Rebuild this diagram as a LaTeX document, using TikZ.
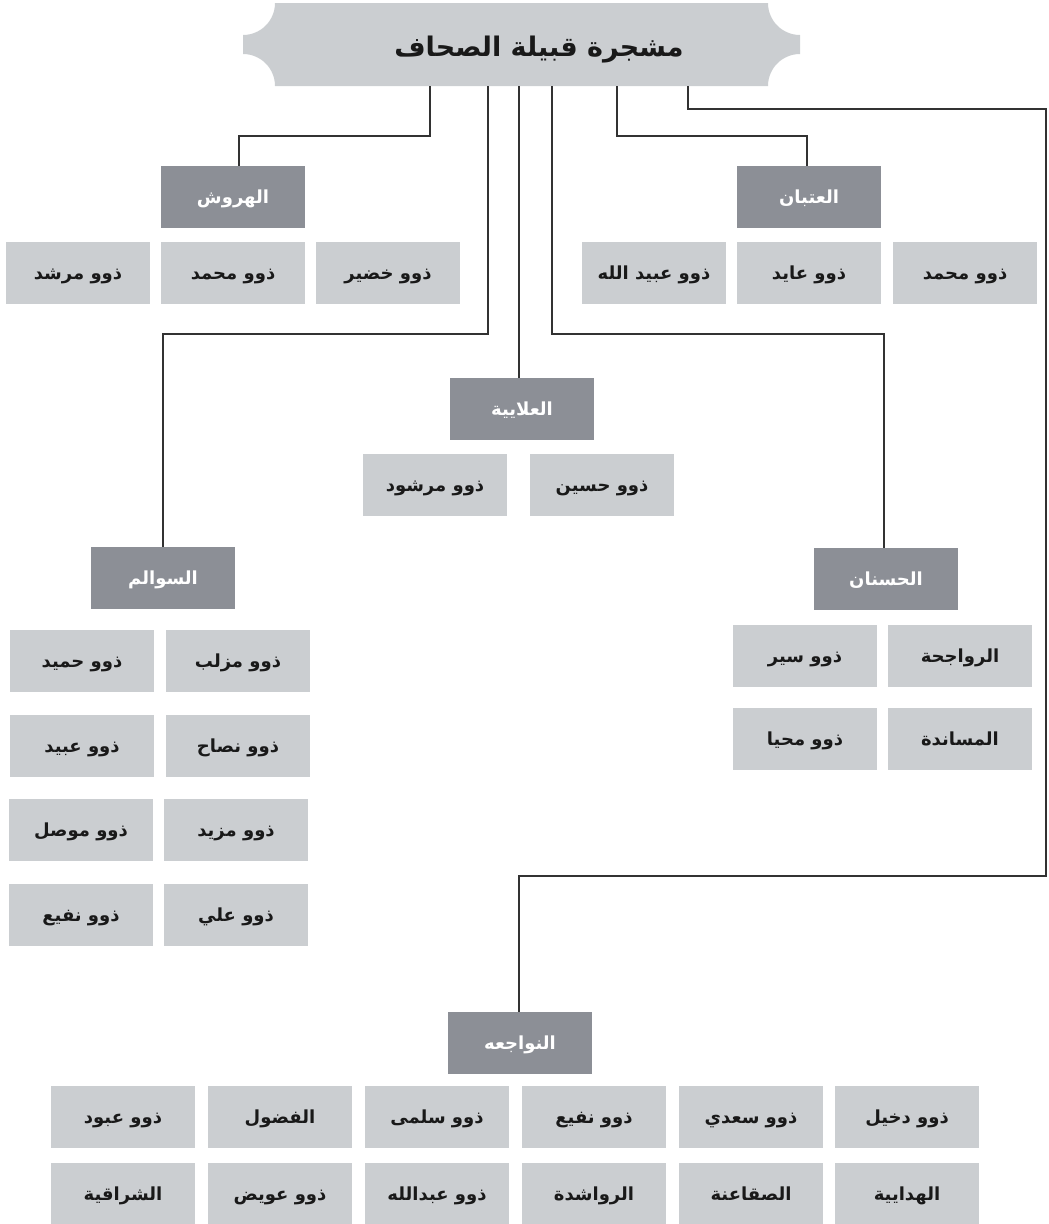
\documentclass[tikz,border=0pt]{standalone}
\usepackage{fontspec}
\TeXXeTstate=1
\newfontfamily\arabicfont[Script=Arabic]{DejaVu Sans}
\definecolor{hdrgray}{RGB}{140,143,150}
\definecolor{boxgray}{RGB}{203,206,209}
\definecolor{linegray}{RGB}{50,50,50}
\definecolor{txtdark}{RGB}{25,25,25}
\newcommand{\ar}[1]{\arabicfont\bfseries\beginR #1\endR}
\begin{document}
\begin{tikzpicture}[x=1pt,y=-1pt,
  hdr/.style={fill=hdrgray,text=white,minimum width=144pt,minimum height=62pt,inner sep=0pt,text height=15pt,text depth=2pt,font=\fontsize{18}{21}\selectfont},
  child/.style={fill=boxgray,text=txtdark,minimum width=144pt,minimum height=62pt,inner sep=0pt,text height=15pt,text depth=2pt,font=\fontsize{18}{21}\selectfont},
  conn/.style={draw=linegray,line width=1.4pt}]
\useasboundingbox (0,0) rectangle (1049,1224);
% banner
\fill[boxgray] (275,3) -- (768,3) arc[start angle=180,end angle=90,radius=32]
  -- (800,54) arc[start angle=270,end angle=180,radius=32]
  -- (275,86) arc[start angle=0,end angle=-90,radius=32]
  -- (243,35) arc[start angle=90,end angle=0,radius=32] -- cycle;
\node[text=txtdark,font=\fontsize{27}{32}\selectfont,inner sep=0pt,text height=22pt,text depth=2pt] (title) at (539,46) {\ar{مشجرة قبيلة الصحاف}};
\coordinate (b1) at (430,86);
\coordinate (b2) at (488,86);
\coordinate (b3) at (519,86);
\coordinate (b4) at (552,86);
\coordinate (b5) at (617,86);
\coordinate (b6) at (688,86);
% headers
\node[hdr] (harwash) at (233,197) {\ar{الهروش}};
\node[hdr] (atban) at (809,197) {\ar{العتبان}};
\node[hdr] (alaya) at (522,409) {\ar{العلايية}};
\node[hdr] (sawalim) at (163,578) {\ar{السوالم}};
\node[hdr] (hasnan) at (886,579) {\ar{الحسنان}};
\node[hdr] (nawajeh) at (520,1043) {\ar{النواجعه}};
% harwash children
\node[child] (h1) at (78,273) {\ar{ذوو مرشد}};
\node[child] (h2) at (233,273) {\ar{ذوو محمد}};
\node[child] (h3) at (388,273) {\ar{ذوو خضير}};
% atban children
\node[child] (a1) at (654,273) {\ar{ذوو عبيد الله}};
\node[child] (a2) at (809,273) {\ar{ذوو عايد}};
\node[child] (a3) at (965,273) {\ar{ذوو محمد}};
% alaya children
\node[child] (l1) at (435,485) {\ar{ذوو مرشود}};
\node[child] (l2) at (602,485) {\ar{ذوو حسين}};
% sawalim children
\node[child] (s1) at (238,661) {\ar{ذوو مزلب}};
\node[child] (s2) at (82,661) {\ar{ذوو حميد}};
\node[child] (s3) at (238,746) {\ar{ذوو نصاح}};
\node[child] (s4) at (82,746) {\ar{ذوو عبيد}};
\node[child] (s5) at (236,830) {\ar{ذوو مزيد}};
\node[child] (s6) at (81,830) {\ar{ذوو موصل}};
\node[child] (s7) at (236,915) {\ar{ذوو علي}};
\node[child] (s8) at (81,915) {\ar{ذوو نفيع}};
% hasnan children
\node[child] (n1) at (960,656) {\ar{الرواجحة}};
\node[child] (n2) at (805,656) {\ar{ذوو سير}};
\node[child] (n3) at (960,739) {\ar{المساندة}};
\node[child] (n4) at (805,739) {\ar{ذوو محيا}};
% nawajeh children
\node[child] (w1) at (123,1117) {\ar{ذوو عبود}};
\node[child] (w2) at (280,1117) {\ar{الفضول}};
\node[child] (w3) at (437,1117) {\ar{ذوو سلمى}};
\node[child] (w4) at (594,1117) {\ar{ذوو نفيع}};
\node[child] (w5) at (751,1117) {\ar{ذوو سعدي}};
\node[child] (w6) at (907,1117) {\ar{ذوو دخيل}};
\node[child] (w7) at (123,1194) {\ar{الشراقية}};
\node[child] (w8) at (280,1194) {\ar{ذوو عويض}};
\node[child] (w9) at (437,1194) {\ar{ذوو عبدالله}};
\node[child] (w10) at (594,1194) {\ar{الرواشدة}};
\node[child] (w11) at (751,1194) {\ar{الصقاعنة}};
\node[child] (w12) at (907,1194) {\ar{الهدايية}};
% connectors
\draw[conn] (b1) -- (430,136) -| ([xshift=6pt]harwash.north);
\draw[conn] (b5) -- (617,136) -| ([xshift=-2pt]atban.north);
\draw[conn] (b3) -- (alaya.north -| b3);
\draw[conn] (b2) -- (488,334) -| (sawalim.north);
\draw[conn] (b4) -- (552,334) -| ([xshift=-2pt]hasnan.north);
\draw[conn] (b6) -- (688,109) -- (1046,109) -- (1046,876) -| ([xshift=-1pt]nawajeh.north);
\end{tikzpicture}
\end{document}
